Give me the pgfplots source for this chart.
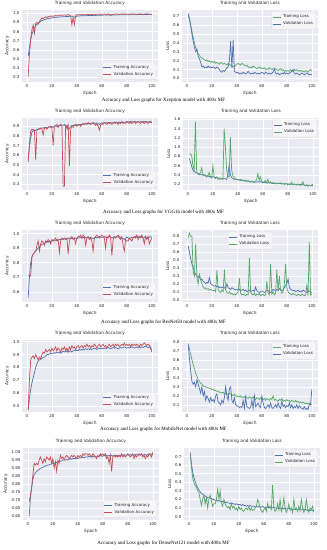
\documentclass[border=0pt]{standalone}
\usepackage{pgfplots}
\pgfplotsset{compat=1.18}
\usepackage{fontspec}
\setmainfont{DejaVu Sans}
\newfontfamily\capfont{Liberation Serif}
\definecolor{sbbg}{HTML}{EAEAF2}
\definecolor{sbblue}{HTML}{4C72B0}
\definecolor{sbgreen}{HTML}{55A868}
\definecolor{sbred}{HTML}{C44E52}
\definecolor{sbtext}{HTML}{262626}
\newcommand{\ser}[2]{\addplot[#1] table[x expr=\coordindex+1,y index=0,header=false,row sep=\\]{#2\\};}
\pgfplotsset{
  sb/.style={
    scale only axis, width=136pt, height=72pt,
    axis background/.style={fill=sbbg},
    grid=major, major grid style={white, line width=0.5pt},
    axis line style={draw=none}, tick style={draw=none},
    xmin=-3.95, xmax=104.95, xtick={0,20,40,60,80,100},
    /pgf/number format/assume math mode=true,
    ticklabel style={font=\fontsize{4}{4.5}\selectfont, text=sbtext},
    xticklabel style={yshift=1.5pt}, yticklabel style={xshift=1pt},
    title style={font=\fontsize{4.3}{5}\selectfont, text=sbtext, yshift=-4.5pt},
    label style={font=\fontsize{4.3}{5}\selectfont, text=sbtext},
    xlabel=Epoch, xlabel style={yshift=3pt}, ylabel style={yshift=-3pt},
    legend style={font=\fontsize{4}{4.5}\selectfont, text=sbtext, fill=sbbg!45!white, draw=black!12, rounded corners=1pt, inner sep=0.8pt, row sep=-1.5pt},
    legend cell align=left,
    legend image code/.code={\draw[##1] (0pt,0pt) -- (8pt,0pt);},
    every axis plot/.append style={line width=0.7pt, no markers},
    yticklabel={\pgfmathprintnumber[fixed,fixed zerofill,precision=1]{\tick}},
  },
  accleg/.style={legend style={at={(0.985,0.03)}, anchor=south east}},
  lossleg/.style={legend style={at={(0.985,0.975)}, anchor=north east}},
}
\begin{document}
\begin{tikzpicture}
\useasboundingbox (0,0) rectangle (327pt,-550pt);
% ---------------- Row 1: Xception
\begin{axis}[sb, accleg, at={(22pt,-82pt)}, anchor=south west, ymin=0.25, ymax=1.035,
  ytick={0.3,0.4,0.5,0.6,0.7,0.8,0.9,1.0}, title={Training and Validation Accuracy}, ylabel={Accuracy}]
\ser{sbblue}{0.53\\0.63\\0.71\\0.77\\0.81\\0.84\\0.86\\0.88\\0.89\\0.90\\
0.91\\0.92\\0.925\\0.93\\0.935\\0.94\\0.94\\0.945\\0.945\\0.95\\
0.95\\0.952\\0.955\\0.955\\0.958\\0.96\\0.958\\0.962\\0.963\\0.96\\
0.965\\0.965\\0.963\\0.967\\0.966\\0.968\\0.965\\0.955\\0.96\\0.968\\
0.97\\0.97\\0.972\\0.971\\0.973\\0.972\\0.974\\0.973\\0.975\\0.974\\
0.975\\0.976\\0.975\\0.977\\0.976\\0.978\\0.977\\0.978\\0.979\\0.978\\
0.979\\0.98\\0.979\\0.98\\0.981\\0.98\\0.981\\0.98\\0.982\\0.981\\
0.982\\0.981\\0.982\\0.983\\0.982\\0.983\\0.982\\0.984\\0.983\\0.984\\
0.983\\0.984\\0.985\\0.984\\0.985\\0.984\\0.985\\0.986\\0.985\\0.986\\
0.985\\0.986\\0.987\\0.986\\0.987\\0.986\\0.987\\0.988\\0.987\\0.988}
\addlegendentry{Training Accuracy}
\ser{sbred}{0.31\\0.55\\0.72\\0.82\\0.87\\0.78\\0.89\\0.90\\0.88\\0.91\\
0.93\\0.95\\0.94\\0.955\\0.96\\0.95\\0.965\\0.96\\0.97\\0.965\\
0.97\\0.968\\0.975\\0.97\\0.978\\0.98\\0.975\\0.98\\0.978\\0.982\\
0.98\\0.978\\0.985\\0.98\\0.97\\0.875\\0.955\\0.875\\0.975\\0.985\\
0.98\\0.985\\0.983\\0.988\\0.985\\0.98\\0.987\\0.99\\0.985\\0.988\\
0.99\\0.985\\0.988\\0.99\\0.986\\0.99\\0.988\\0.992\\0.985\\0.99\\
0.988\\0.992\\0.99\\0.985\\0.993\\0.99\\0.975\\0.985\\0.99\\0.988\\
0.99\\0.993\\0.99\\0.985\\0.992\\0.99\\0.994\\0.99\\0.993\\0.99\\
0.985\\0.992\\0.99\\0.995\\0.99\\0.993\\0.99\\0.985\\0.992\\0.99\\
0.993\\0.99\\0.985\\0.992\\0.99\\0.995\\0.99\\0.992\\0.985\\0.99}
\addlegendentry{Validation Accuracy}
\end{axis}
\begin{axis}[sb, lossleg, at={(182pt,-82pt)}, anchor=south west, ymin=-0.04, ymax=0.77,
  ytick={0,0.1,0.2,0.3,0.4,0.5,0.6,0.7}, title={Training and Validation Loss}, ylabel={Loss}]
\ser{sbgreen}{0.72\\0.66\\0.6\\0.53\\0.46\\0.4\\0.35\\0.31\\0.28\\0.26\\
0.24\\0.23\\0.22\\0.21\\0.2\\0.21\\0.19\\0.2\\0.18\\0.19\\
0.18\\0.19\\0.17\\0.18\\0.17\\0.16\\0.18\\0.17\\0.16\\0.17\\
0.16\\0.15\\0.17\\0.16\\0.15\\0.14\\0.13\\0.14\\0.15\\0.16\\
0.17\\0.16\\0.15\\0.17\\0.16\\0.15\\0.14\\0.15\\0.13\\0.12\\
0.13\\0.12\\0.14\\0.13\\0.12\\0.11\\0.12\\0.13\\0.11\\0.12\\
0.11\\0.12\\0.1\\0.11\\0.1\\0.12\\0.11\\0.1\\0.11\\0.1\\
0.11\\0.1\\0.09\\0.1\\0.11\\0.09\\0.1\\0.08\\0.09\\0.08\\
0.09\\0.08\\0.1\\0.09\\0.08\\0.1\\0.09\\0.1\\0.08\\0.09\\
0.08\\0.09\\0.08\\0.07\\0.09\\0.08\\0.07\\0.09\\0.1\\0.08}
\addlegendentry{Training Loss}
\ser{sbblue}{0.73\\0.68\\0.6\\0.5\\0.42\\0.35\\0.3\\0.33\\0.25\\0.22\\
0.18\\0.13\\0.14\\0.12\\0.13\\0.12\\0.14\\0.12\\0.13\\0.12\\
0.13\\0.12\\0.11\\0.13\\0.12\\0.1\\0.08\\0.07\\0.09\\0.08\\
0.1\\0.12\\0.13\\0.2\\0.42\\0.12\\0.43\\0.08\\0.07\\0.06\\
0.07\\0.05\\0.06\\0.05\\0.07\\0.06\\0.05\\0.06\\0.08\\0.06\\
0.05\\0.06\\0.05\\0.07\\0.06\\0.05\\0.06\\0.05\\0.06\\0.07\\
0.06\\0.05\\0.07\\0.06\\0.05\\0.06\\0.05\\0.06\\0.07\\0.11\\
0.06\\0.05\\0.06\\0.04\\0.05\\0.06\\0.05\\0.07\\0.05\\0.06\\
0.05\\0.06\\0.07\\0.08\\0.1\\0.06\\0.05\\0.06\\0.05\\0.04\\
0.05\\0.06\\0.05\\0.04\\0.05\\0.06\\0.05\\0.04\\0.05\\0.04}
\addlegendentry{Validation Loss}
\end{axis}
\node[font=\capfont\fontsize{5}{6}\selectfont] at (163.5pt,-100pt) {Accuracy and Loss graphs for Xception model with 400x MF};
% ---------------- Row 2: VGG16
\begin{axis}[sb, accleg, at={(22pt,-190pt)}, anchor=south west, ymin=0.24, ymax=0.987,
  ytick={0.3,0.4,0.5,0.6,0.7,0.8,0.9}, title={Training and Validation Accuracy}, ylabel={Accuracy}]
\ser{sbblue}{0.55\\0.68\\0.78\\0.84\\0.86\\0.85\\0.86\\0.87\\0.87\\0.88\\
0.88\\0.885\\0.88\\0.89\\0.885\\0.89\\0.89\\0.895\\0.89\\0.9\\
0.89\\0.9\\0.905\\0.9\\0.905\\0.91\\0.91\\0.915\\0.91\\0.92\\
0.9\\0.91\\0.86\\0.88\\0.9\\0.91\\0.91\\0.915\\0.91\\0.92\\
0.915\\0.92\\0.92\\0.925\\0.92\\0.925\\0.93\\0.925\\0.93\\0.93\\
0.93\\0.935\\0.93\\0.935\\0.93\\0.935\\0.93\\0.92\\0.93\\0.935\\
0.935\\0.94\\0.935\\0.94\\0.935\\0.94\\0.94\\0.935\\0.94\\0.945\\
0.94\\0.945\\0.94\\0.945\\0.94\\0.945\\0.945\\0.94\\0.945\\0.95\\
0.945\\0.95\\0.945\\0.95\\0.945\\0.95\\0.95\\0.945\\0.95\\0.945\\
0.95\\0.945\\0.95\\0.95\\0.945\\0.95\\0.945\\0.95\\0.95\\0.945}
\addlegendentry{Training Accuracy}
\ser{sbred}{0.53\\0.72\\0.85\\0.87\\0.87\\0.86\\0.55\\0.86\\0.87\\0.87\\
0.88\\0.87\\0.81\\0.88\\0.89\\0.87\\0.89\\0.9\\0.9\\0.89\\
0.7\\0.9\\0.91\\0.92\\0.89\\0.91\\0.92\\0.9\\0.28\\0.28\\
0.91\\0.88\\0.92\\0.49\\0.87\\0.9\\0.89\\0.91\\0.92\\0.9\\
0.91\\0.92\\0.9\\0.92\\0.93\\0.92\\0.93\\0.92\\0.94\\0.93\\
0.92\\0.93\\0.94\\0.92\\0.91\\0.93\\0.9\\0.86\\0.91\\0.93\\
0.92\\0.94\\0.93\\0.92\\0.94\\0.93\\0.94\\0.92\\0.93\\0.94\\
0.93\\0.94\\0.92\\0.94\\0.93\\0.95\\0.93\\0.94\\0.93\\0.95\\
0.94\\0.93\\0.95\\0.93\\0.94\\0.95\\0.93\\0.94\\0.95\\0.94\\
0.93\\0.95\\0.94\\0.93\\0.95\\0.94\\0.93\\0.95\\0.94\\0.94}
\addlegendentry{Validation Accuracy}
\end{axis}
\begin{axis}[sb, lossleg, at={(183pt,-190pt)}, anchor=south west, ymin=0.07, ymax=1.63,
  ytick={0.2,0.4,0.6,0.8,1.0,1.2,1.4,1.6}, title={Training and Validation Loss}, ylabel={Loss}]
\ser{sbblue}{0.75\\0.68\\0.58\\0.5\\0.47\\0.45\\0.44\\0.43\\0.42\\0.41\\
0.4\\0.39\\0.4\\0.38\\0.37\\0.38\\0.36\\0.37\\0.35\\0.36\\
0.35\\0.34\\0.35\\0.33\\0.32\\0.33\\0.32\\0.31\\0.32\\0.31\\
0.3\\0.4\\0.6\\0.4\\0.34\\0.32\\0.3\\0.31\\0.29\\0.3\\
0.29\\0.28\\0.29\\0.28\\0.27\\0.28\\0.26\\0.27\\0.26\\0.25\\
0.26\\0.25\\0.24\\0.25\\0.24\\0.25\\0.24\\0.26\\0.24\\0.23\\
0.24\\0.23\\0.22\\0.23\\0.22\\0.23\\0.22\\0.21\\0.22\\0.21\\
0.22\\0.21\\0.22\\0.21\\0.2\\0.21\\0.2\\0.21\\0.2\\0.2\\
0.2\\0.19\\0.2\\0.19\\0.2\\0.19\\0.18\\0.19\\0.18\\0.19\\
0.18\\0.19\\0.18\\0.17\\0.18\\0.17\\0.18\\0.17\\0.16\\0.17}
\addlegendentry{Training Loss}
\ser{sbgreen}{0.85\\0.85\\0.82\\0.6\\0.5\\1.55\\0.45\\0.42\\0.4\\0.45\\
0.55\\0.4\\0.38\\0.4\\0.35\\0.38\\0.45\\0.35\\0.33\\0.6\\
0.35\\0.32\\0.35\\0.3\\0.32\\0.3\\0.32\\0.3\\1.4\\1.0\\
0.5\\0.38\\0.35\\1.22\\0.5\\0.38\\0.35\\0.32\\0.3\\0.3\\
0.28\\0.3\\0.27\\0.28\\0.26\\0.28\\0.25\\0.27\\0.25\\0.24\\
0.26\\0.24\\0.23\\0.25\\0.3\\0.42\\0.28\\0.36\\0.26\\0.24\\
0.25\\0.28\\0.23\\0.3\\0.22\\0.25\\0.21\\0.23\\0.22\\0.2\\
0.22\\0.2\\0.21\\0.23\\0.2\\0.22\\0.19\\0.2\\0.21\\0.18\\
0.2\\0.19\\0.24\\0.18\\0.2\\0.19\\0.18\\0.2\\0.19\\0.17\\
0.2\\0.25\\0.18\\0.16\\0.19\\0.15\\0.17\\0.16\\0.18\\0.2}
\addlegendentry{Validation Loss}
\end{axis}
\node[font=\capfont\fontsize{5}{6}\selectfont] at (163.5pt,-212pt) {Accuracy and Loss graphs for VGG16 model with 400x MF};
% ---------------- Row 3: ResNet50
\begin{axis}[sb, accleg, at={(22pt,-302pt)}, anchor=south west, ymin=0.53, ymax=1.025,
  ytick={0.6,0.7,0.8,0.9,1.0}, title={Training and Validation Accuracy}, ylabel={Accuracy}]
\ser{sbblue}{0.56\\0.7\\0.8\\0.84\\0.86\\0.87\\0.88\\0.89\\0.9\\0.91\\
0.92\\0.925\\0.93\\0.935\\0.94\\0.945\\0.94\\0.95\\0.945\\0.95\\
0.955\\0.95\\0.955\\0.96\\0.955\\0.96\\0.96\\0.965\\0.96\\0.965\\
0.96\\0.965\\0.965\\0.97\\0.965\\0.97\\0.965\\0.97\\0.97\\0.965\\
0.97\\0.97\\0.975\\0.97\\0.975\\0.97\\0.975\\0.97\\0.975\\0.97\\
0.975\\0.97\\0.965\\0.97\\0.975\\0.97\\0.975\\0.98\\0.975\\0.975\\
0.975\\0.98\\0.975\\0.97\\0.975\\0.98\\0.975\\0.97\\0.975\\0.98\\
0.975\\0.98\\0.975\\0.98\\0.975\\0.97\\0.965\\0.96\\0.97\\0.975\\
0.97\\0.965\\0.97\\0.975\\0.97\\0.975\\0.98\\0.975\\0.98\\0.975\\
0.98\\0.975\\0.97\\0.975\\0.98\\0.975\\0.97\\0.975\\0.98\\0.975}
\addlegendentry{Training Accuracy}
\ser{sbred}{0.71\\0.71\\0.71\\0.84\\0.86\\0.87\\0.88\\0.92\\0.95\\0.88\\
0.93\\0.95\\0.94\\0.92\\0.95\\0.94\\0.96\\0.95\\0.93\\0.96\\
0.95\\0.96\\0.97\\0.95\\0.96\\0.87\\0.95\\0.97\\0.96\\0.97\\
0.96\\0.97\\0.86\\0.95\\0.97\\0.98\\0.96\\0.97\\0.93\\0.97\\
0.98\\0.98\\0.99\\0.97\\0.99\\0.98\\0.92\\0.97\\0.98\\0.96\\
0.97\\0.95\\0.88\\0.97\\0.98\\0.99\\0.98\\0.97\\0.98\\0.99\\
0.98\\0.97\\0.9\\0.98\\0.97\\0.99\\0.98\\0.85\\0.96\\0.98\\
0.97\\0.98\\0.99\\0.97\\0.96\\0.98\\0.92\\0.88\\0.96\\0.95\\
0.95\\0.97\\0.96\\0.95\\0.97\\0.98\\0.97\\0.99\\0.96\\0.98\\
0.97\\0.99\\0.97\\0.93\\0.98\\0.96\\0.98\\0.93\\0.95\\0.97}
\addlegendentry{Validation Accuracy}
\end{axis}
\begin{axis}[sb, legend style={at={(0.5,0.975)}, anchor=north}, at={(182pt,-302pt)}, anchor=south west, ymin=-0.03, ymax=0.88,
  ytick={0,0.1,0.2,0.3,0.4,0.5,0.6,0.7,0.8}, title={Training and Validation Loss}, ylabel={Loss}]
\ser{sbblue}{0.68\\0.6\\0.52\\0.45\\0.4\\0.35\\0.32\\0.3\\0.28\\0.3\\
0.25\\0.26\\0.23\\0.22\\0.2\\0.22\\0.21\\0.28\\0.2\\0.19\\
0.18\\0.17\\0.18\\0.16\\0.17\\0.15\\0.16\\0.15\\0.16\\0.15\\
0.14\\0.2\\0.15\\0.14\\0.13\\0.15\\0.14\\0.13\\0.12\\0.13\\
0.12\\0.13\\0.11\\0.12\\0.13\\0.11\\0.12\\0.1\\0.11\\0.12\\
0.1\\0.11\\0.12\\0.1\\0.16\\0.11\\0.1\\0.09\\0.1\\0.11\\
0.1\\0.09\\0.1\\0.12\\0.11\\0.1\\0.09\\0.11\\0.13\\0.12\\
0.11\\0.13\\0.12\\0.14\\0.12\\0.11\\0.13\\0.15\\0.18\\0.2\\
0.26\\0.16\\0.13\\0.12\\0.11\\0.12\\0.1\\0.11\\0.12\\0.1\\
0.11\\0.1\\0.12\\0.11\\0.1\\0.09\\0.1\\0.11\\0.1\\0.09}
\addlegendentry{Training Loss}
\ser{sbgreen}{0.78\\0.84\\0.8\\0.8\\0.35\\0.3\\0.7\\0.28\\0.2\\0.32\\
0.25\\0.2\\0.16\\0.14\\0.15\\0.13\\0.14\\0.12\\0.13\\0.12\\
0.11\\0.12\\0.1\\0.37\\0.12\\0.1\\0.09\\0.12\\0.1\\0.38\\
0.12\\0.09\\0.08\\0.1\\0.07\\0.08\\0.06\\0.07\\0.06\\0.08\\
0.1\\0.27\\0.08\\0.06\\0.07\\0.06\\0.05\\0.07\\0.06\\0.53\\
0.1\\0.07\\0.06\\0.08\\0.05\\0.07\\0.06\\0.08\\0.05\\0.06\\
0.07\\0.05\\0.06\\0.23\\0.08\\0.06\\0.45\\0.07\\0.1\\0.06\\
0.08\\0.38\\0.1\\0.3\\0.12\\0.08\\0.1\\0.2\\0.45\\0.15\\
0.1\\0.08\\0.07\\0.06\\0.08\\0.07\\0.06\\0.05\\0.07\\0.06\\
0.05\\0.07\\0.06\\0.05\\0.06\\0.18\\0.05\\0.73\\0.06\\0.07}
\addlegendentry{Validation Loss}
\end{axis}
\node[font=\capfont\fontsize{5}{6}\selectfont] at (163.5pt,-322pt) {Accuracy and Loss graphs for ResNet50 model with 400x MF};
% ---------------- Row 4: MobileNet
\begin{axis}[sb, accleg, at={(22pt,-412pt)}, anchor=south west, ymin=0.455, ymax=1.013,
  ytick={0.5,0.6,0.7,0.8,0.9,1.0}, title={Training and Validation Accuracy}, ylabel={Accuracy}]
\ser{sbblue}{0.47\\0.56\\0.63\\0.68\\0.72\\0.76\\0.8\\0.83\\0.85\\0.86\\
0.86\\0.87\\0.88\\0.88\\0.89\\0.9\\0.9\\0.905\\0.91\\0.91\\
0.91\\0.915\\0.91\\0.92\\0.915\\0.92\\0.91\\0.92\\0.925\\0.92\\
0.925\\0.92\\0.93\\0.925\\0.93\\0.92\\0.93\\0.935\\0.93\\0.935\\
0.93\\0.94\\0.935\\0.94\\0.935\\0.94\\0.945\\0.94\\0.945\\0.94\\
0.945\\0.94\\0.945\\0.95\\0.945\\0.94\\0.945\\0.95\\0.945\\0.95\\
0.945\\0.95\\0.945\\0.95\\0.955\\0.95\\0.945\\0.95\\0.955\\0.95\\
0.955\\0.95\\0.945\\0.95\\0.955\\0.95\\0.955\\0.96\\0.955\\0.95\\
0.955\\0.95\\0.955\\0.96\\0.955\\0.95\\0.955\\0.96\\0.955\\0.96\\
0.955\\0.96\\0.955\\0.96\\0.965\\0.96\\0.955\\0.96\\0.95\\0.93}
\addlegendentry{Training Accuracy}
\ser{sbred}{0.47\\0.7\\0.86\\0.88\\0.89\\0.87\\0.9\\0.88\\0.86\\0.88\\
0.87\\0.9\\0.92\\0.91\\0.94\\0.92\\0.93\\0.94\\0.92\\0.95\\
0.93\\0.94\\0.96\\0.93\\0.95\\0.94\\0.92\\0.95\\0.94\\0.96\\
0.93\\0.95\\0.92\\0.96\\0.94\\0.97\\0.95\\0.96\\0.94\\0.96\\
0.97\\0.95\\0.96\\0.97\\0.95\\0.97\\0.96\\0.98\\0.96\\0.97\\
0.95\\0.97\\0.96\\0.98\\0.97\\0.95\\0.97\\0.98\\0.96\\0.97\\
0.98\\0.96\\0.97\\0.95\\0.97\\0.98\\0.96\\0.97\\0.98\\0.96\\
0.98\\0.97\\0.98\\0.96\\0.97\\0.98\\0.97\\0.99\\0.97\\0.98\\
0.97\\0.98\\0.96\\0.98\\0.97\\0.98\\0.97\\0.98\\0.97\\0.96\\
0.98\\0.97\\0.98\\0.99\\0.98\\0.97\\0.98\\0.97\\0.96\\0.92}
\addlegendentry{Validation Accuracy}
\end{axis}
\begin{axis}[sb, lossleg, at={(182pt,-412pt)}, anchor=south west, ymin=0.02, ymax=0.82,
  ytick={0.1,0.2,0.3,0.4,0.5,0.6,0.7,0.8}, title={Training and Validation Loss}, ylabel={Loss}]
\ser{sbgreen}{0.78\\0.72\\0.66\\0.6\\0.55\\0.5\\0.45\\0.42\\0.38\\0.36\\
0.34\\0.33\\0.31\\0.3\\0.3\\0.29\\0.29\\0.28\\0.28\\0.27\\
0.27\\0.26\\0.26\\0.25\\0.25\\0.24\\0.24\\0.23\\0.24\\0.22\\
0.23\\0.22\\0.21\\0.23\\0.22\\0.21\\0.2\\0.22\\0.2\\0.19\\
0.2\\0.19\\0.2\\0.18\\0.19\\0.18\\0.2\\0.18\\0.17\\0.19\\
0.18\\0.17\\0.19\\0.17\\0.16\\0.18\\0.17\\0.16\\0.18\\0.17\\
0.16\\0.17\\0.15\\0.17\\0.16\\0.15\\0.17\\0.16\\0.2\\0.15\\
0.16\\0.15\\0.14\\0.16\\0.15\\0.17\\0.14\\0.15\\0.14\\0.16\\
0.14\\0.15\\0.13\\0.15\\0.14\\0.13\\0.15\\0.13\\0.14\\0.12\\
0.13\\0.12\\0.13\\0.12\\0.11\\0.12\\0.11\\0.12\\0.1\\0.11}
\addlegendentry{Training Loss}
\ser{sbblue}{0.77\\0.62\\0.48\\0.36\\0.33\\0.35\\0.3\\0.38\\0.33\\0.28\\
0.23\\0.3\\0.2\\0.25\\0.15\\0.2\\0.17\\0.13\\0.18\\0.14\\
0.16\\0.13\\0.2\\0.22\\0.13\\0.12\\0.1\\0.15\\0.12\\0.18\\
0.3\\0.2\\0.15\\0.28\\0.3\\0.15\\0.12\\0.18\\0.1\\0.09\\
0.08\\0.07\\0.08\\0.07\\0.15\\0.06\\0.18\\0.08\\0.07\\0.06\\
0.07\\0.15\\0.06\\0.2\\0.08\\0.1\\0.12\\0.08\\0.07\\0.2\\
0.12\\0.07\\0.06\\0.08\\0.1\\0.07\\0.12\\0.07\\0.06\\0.08\\
0.1\\0.07\\0.12\\0.08\\0.06\\0.14\\0.08\\0.1\\0.07\\0.09\\
0.08\\0.12\\0.07\\0.1\\0.06\\0.08\\0.07\\0.1\\0.06\\0.09\\
0.07\\0.06\\0.05\\0.08\\0.05\\0.06\\0.05\\0.11\\0.1\\0.27}
\addlegendentry{Validation Loss}
\end{axis}
\node[font=\capfont\fontsize{5}{6}\selectfont] at (163.5pt,-429pt) {Accuracy and Loss graphs for MobileNet model with 400x MF};
% ---------------- Row 5: DenseNet121
\begin{axis}[sb, accleg, at={(23pt,-520pt)}, anchor=south west, ymin=0.575, ymax=1.026,
  ytick={0.6,0.65,0.7,0.75,0.8,0.85,0.9,0.95,1.0},
  yticklabel={\pgfmathprintnumber[fixed,fixed zerofill,precision=2]{\tick}},
  title={Training and Validation Accuracy}, ylabel={Accuracy}]
\ser{sbblue}{0.6\\0.71\\0.78\\0.83\\0.86\\0.87\\0.88\\0.885\\0.89\\0.9\\
0.9\\0.905\\0.91\\0.915\\0.915\\0.92\\0.92\\0.925\\0.925\\0.93\\
0.93\\0.935\\0.935\\0.94\\0.94\\0.945\\0.945\\0.95\\0.95\\0.95\\
0.955\\0.95\\0.955\\0.96\\0.955\\0.96\\0.96\\0.96\\0.965\\0.96\\
0.965\\0.965\\0.965\\0.97\\0.965\\0.97\\0.97\\0.97\\0.975\\0.97\\
0.975\\0.97\\0.975\\0.975\\0.97\\0.975\\0.975\\0.98\\0.975\\0.975\\
0.98\\0.975\\0.98\\0.975\\0.98\\0.975\\0.98\\0.975\\0.98\\0.98\\
0.975\\0.98\\0.98\\0.975\\0.98\\0.98\\0.985\\0.98\\0.98\\0.985\\
0.98\\0.985\\0.98\\0.985\\0.98\\0.985\\0.985\\0.98\\0.985\\0.985\\
0.985\\0.98\\0.985\\0.985\\0.98\\0.985\\0.985\\0.99\\0.985\\0.99}
\addlegendentry{Training Accuracy}
\ser{sbred}{0.69\\0.73\\0.78\\0.86\\0.93\\0.92\\0.93\\0.92\\0.95\\0.97\\
0.95\\0.93\\0.96\\0.94\\0.97\\0.96\\0.95\\0.97\\0.93\\0.96\\
0.9\\0.94\\0.88\\0.95\\0.93\\0.98\\0.96\\0.97\\0.95\\0.97\\
0.98\\0.97\\0.96\\0.97\\0.98\\0.97\\0.98\\0.97\\0.96\\0.98\\
0.97\\0.98\\0.97\\0.99\\0.98\\0.99\\0.99\\0.98\\0.99\\0.98\\
0.97\\0.99\\0.98\\0.97\\0.96\\0.98\\0.97\\0.99\\0.98\\0.99\\
0.98\\0.99\\0.96\\0.97\\0.93\\0.98\\0.88\\0.97\\0.98\\0.97\\
0.98\\0.97\\0.98\\0.97\\0.99\\0.97\\0.98\\0.97\\0.98\\0.99\\
0.98\\0.97\\0.98\\0.99\\0.96\\0.98\\0.97\\0.98\\0.99\\0.98\\
0.99\\0.97\\0.98\\0.96\\0.98\\0.97\\0.99\\0.98\\0.97\\1.0}
\addlegendentry{Validation Accuracy}
\end{axis}
\begin{axis}[sb, lossleg, at={(184pt,-520pt)}, anchor=south west, ymin=-0.04, ymax=0.8,
  ytick={0,0.1,0.2,0.3,0.4,0.5,0.6,0.7}, title={Training and Validation Loss}, ylabel={Loss}]
\ser{sbblue}{0.75\\0.62\\0.52\\0.46\\0.41\\0.37\\0.34\\0.31\\0.29\\0.27\\
0.26\\0.25\\0.24\\0.23\\0.22\\0.22\\0.21\\0.21\\0.2\\0.2\\
0.19\\0.19\\0.18\\0.19\\0.18\\0.17\\0.18\\0.17\\0.16\\0.17\\
0.16\\0.16\\0.15\\0.16\\0.15\\0.15\\0.14\\0.15\\0.14\\0.14\\
0.14\\0.13\\0.14\\0.13\\0.13\\0.12\\0.13\\0.12\\0.13\\0.12\\
0.12\\0.12\\0.11\\0.12\\0.11\\0.12\\0.11\\0.11\\0.12\\0.11\\
0.11\\0.1\\0.11\\0.1\\0.11\\0.1\\0.1\\0.11\\0.1\\0.1\\
0.1\\0.09\\0.1\\0.09\\0.1\\0.09\\0.1\\0.09\\0.09\\0.1\\
0.09\\0.09\\0.08\\0.09\\0.08\\0.09\\0.08\\0.09\\0.08\\0.08\\
0.08\\0.09\\0.08\\0.08\\0.07\\0.08\\0.07\\0.08\\0.07\\0.06}
\addlegendentry{Training Loss}
\ser{sbgreen}{0.72\\0.58\\0.45\\0.4\\0.36\\0.34\\0.3\\0.28\\0.2\\0.13\\
0.2\\0.25\\0.15\\0.22\\0.1\\0.2\\0.25\\0.18\\0.12\\0.15\\
0.15\\0.2\\0.32\\0.2\\0.3\\0.15\\0.12\\0.2\\0.15\\0.12\\
0.1\\0.12\\0.08\\0.15\\0.1\\0.12\\0.08\\0.1\\0.07\\0.12\\
0.08\\0.1\\0.07\\0.06\\0.09\\0.1\\0.08\\0.12\\0.07\\0.1\\
0.07\\0.08\\0.1\\0.12\\0.2\\0.16\\0.1\\0.07\\0.05\\0.08\\
0.1\\0.06\\0.15\\0.1\\0.12\\0.08\\0.37\\0.1\\0.06\\0.08\\
0.15\\0.08\\0.2\\0.06\\0.1\\0.22\\0.1\\0.05\\0.08\\0.15\\
0.07\\0.1\\0.05\\0.2\\0.08\\0.1\\0.06\\0.12\\0.07\\0.2\\
0.1\\0.05\\0.08\\0.2\\0.1\\0.05\\0.1\\0.08\\0.12\\0.05}
\addlegendentry{Validation Loss}
\end{axis}
\node[font=\capfont\fontsize{5}{6}\selectfont] at (163.5pt,-543pt) {Accuracy and Loss graphs for DenseNet121 model with 400x MF};
\end{tikzpicture}
\end{document}
